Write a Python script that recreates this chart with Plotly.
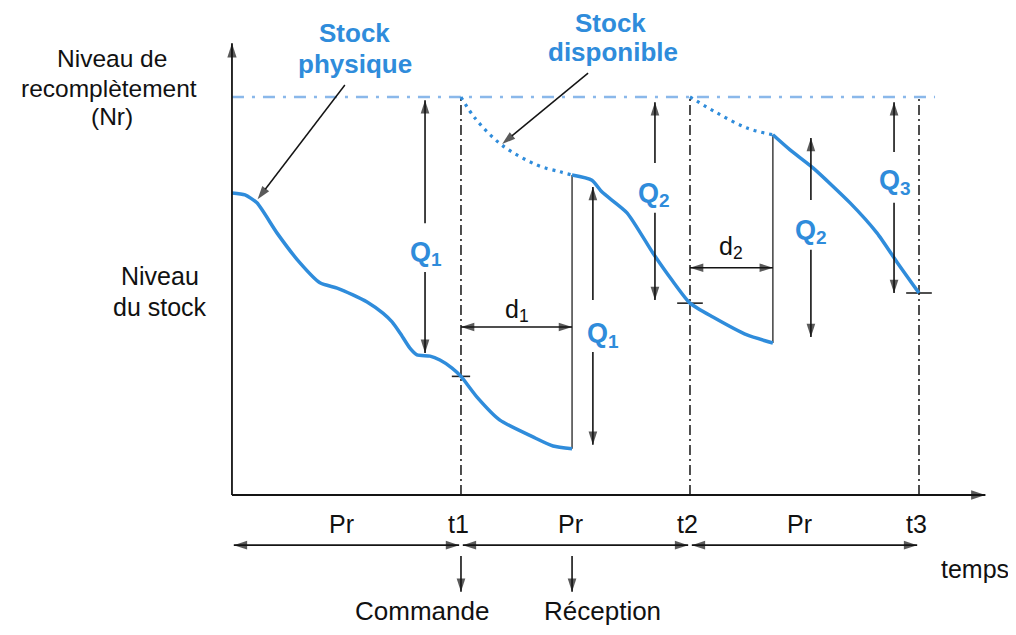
import plotly.graph_objects as go

# ---------------- data (time in Pr periods, stock level in % of Nr) ----------------
NR = 100
order_times = [1.0, 2.0, 3.0]          # t1, t2, t3
order_labels = ["t1", "t2", "t3"]
reception_times = [1.485, 2.362]

# physical stock, cycle 1 (from origin to first reception)
t_A = [0.0, 0.057, 0.109, 0.197, 0.297, 0.384, 0.459, 0.528, 0.590, 0.659, 0.699,
       0.734, 0.777, 0.808, 0.865, 0.908, 0.961, 1.0, 1.070, 1.170, 1.314, 1.402, 1.485]
stock_A = [75.9, 75.4, 73.4, 65.8, 58.3, 53.3, 52.0, 50.3, 48.5, 45.7, 43.5,
           40.7, 36.9, 35.2, 34.9, 33.9, 31.9, 29.8, 24.6, 18.8, 14.6, 12.3, 11.6]
# physical stock, cycle 2
t_B = [1.485, 1.572, 1.616, 1.725, 1.838, 1.921, 2.0, 2.100, 2.249, 2.362]
stock_B = [80.4, 79.1, 76.1, 70.9, 60.8, 54.0, 48.2, 44.7, 40.2, 38.2]
# physical stock, cycle 3
t_C = [2.362, 2.437, 2.537, 2.699, 2.817, 2.904, 3.0]
stock_C = [90.5, 86.7, 82.2, 73.4, 65.8, 58.5, 50.75]
# available stock (dotted)
t_D1 = [1.0, 1.061, 1.179, 1.332, 1.432, 1.485]
dispo_D1 = [100, 94.7, 87.9, 82.9, 81.2, 80.4]
t_D2 = [2.0, 2.118, 2.249, 2.362]
dispo_D2 = [100, 96.0, 92.2, 90.5]

# stock level at each order time (tick marks)
order_levels = [29.8, 48.2, 50.75]
# stock levels just before / after each reception
reception_low = [11.6, 38.2]
reception_high = [80.4, 90.5]

# Q arrows: (t, top, gap_top, label_t, label_v, gap_bottom, bottom, index)
q_arrows = [
    (0.843, 99.2, 68.3, 0.843, 61.1, 56.0, 35.7, "1"),
    (1.576, 77.4, 49.0, 1.616, 40.7, 35.9, 12.6, "1"),
    (1.847, 98.7, 83.4, 1.840, 75.9, 70.9, 49.0, "2"),
    (2.528, 89.7, 74.1, 2.528, 66.6, 61.6, 39.7, "2"),
    (2.891, 98.7, 86.2, 2.891, 79.1, 73.4, 50.75, "3"),
]
# delay arrows (level, index, label level)
d_arrows = [(42.2, "1", 46.8), (57.1, "2", 62.5)]

BLUE = "#2f8cdb"
NR_BLUE = "#8ab8ea"
INK = "#141414"
FONT = "Liberation Sans, Arial, sans-serif"

fig = go.Figure()

# replenishment level line
fig.add_trace(go.Scatter(x=[0, 3.07], y=[NR, NR], mode="lines",
                         line=dict(color=NR_BLUE, width=2.6, dash="12px,8px,3px,8px")))

# order time verticals (dash-dot)
for t in order_times:
    fig.add_trace(go.Scatter(x=[t, t], y=[0, NR], mode="lines",
                             line=dict(color="#222", width=1.6, dash="10px,4px,2px,4px")))

# reception verticals
for t, lo, hi in zip(reception_times, reception_low, reception_high):
    fig.add_trace(go.Scatter(x=[t, t], y=[lo, hi], mode="lines",
                             line=dict(color="#222", width=1.3)))

# tick marks at order points
for t, lv, hw in zip(order_times, order_levels, [0.04, 0.056, 0.056]):
    fig.add_trace(go.Scatter(x=[t - hw, t + hw], y=[lv, lv], mode="lines",
                             line=dict(color="#222", width=1.6)))

# physical stock curves
for tx, sy in [(t_A, stock_A), (t_B, stock_B), (t_C, stock_C)]:
    fig.add_trace(go.Scatter(x=tx, y=sy, mode="lines",
                             line=dict(color=BLUE, width=3.5, shape="spline", smoothing=0.6)))

# available stock curves (dotted)
for tx, sy in [(t_D1, dispo_D1), (t_D2, dispo_D2)]:
    fig.add_trace(go.Scatter(x=tx, y=sy, mode="lines",
                             line=dict(color=BLUE, width=3.2, dash="3px,5px", shape="spline")))


def heading(x0, y0, x1, y1):
    """marker angle (deg, clockwise from up) for an axis-aligned segment pointing to (x1, y1)"""
    if x0 == x1:
        return 0 if y1 > y0 else 180
    return 90 if x1 > x0 else 270


def arrow(x0, y0, x1, y1, double=False, width=1.6, size=14):
    if x0 == x1 or y0 == y1:
        ang_end = heading(x0, y0, x1, y1)
        ang_start = heading(x1, y1, x0, y0)
        marker = dict(symbol="arrow", size=[size if double else 0, size],
                      angle=[ang_start, ang_end], angleref="up", color=INK,
                      line=dict(width=0))
    else:
        marker = dict(symbol="arrow", size=[0, size], angleref="previous", color=INK,
                      line=dict(width=0))
    fig.add_trace(go.Scatter(x=[x0, x1], y=[y0, y1], mode="lines+markers",
                             line=dict(color=INK, width=width), marker=marker,
                             hoverinfo="skip"))


ann = []


def label(x, y, text, size=24, color="#111", bold=False, xshift=0, yshift=0):
    ann.append(dict(x=x, y=y, xref="x", yref="y", text=f"<b>{text}</b>" if bold else text,
                    showarrow=False, xshift=xshift, yshift=yshift,
                    font=dict(family=FONT, size=size, color=color)))


# axes
arrow(0, 0, 0, 113.5, width=1.8, size=15)
arrow(0, 0, 3.29, 0, width=1.8, size=15)

# Q arrows (letter + subscript index as separate texts)
for t, top, gt, lt, lv, gb, bot, idx in q_arrows:
    arrow(t, gt, t, top)
    arrow(t, gb, t, bot)
    label(lt, lv, "Q", size=27, color=BLUE, bold=True, xshift=-5)
    label(lt, lv, idx, size=19, color=BLUE, bold=True, xshift=11, yshift=-8)

# delay arrows
for (lvl, idx, lab_v), t0, t1 in zip(d_arrows, order_times[:2], reception_times):
    arrow(t0, lvl, t1, lvl, double=True)
    label((t0 + t1) / 2, lab_v, "d", size=25, xshift=-5)
    label((t0 + t1) / 2, lab_v, idx, size=17.5, xshift=7, yshift=-7)

# time line below the axis
for i, t in enumerate(order_times):
    t0 = 0 if i == 0 else order_times[i - 1]
    arrow(t0 + 0.008, -12.6, t - 0.008, -12.6, double=True)
    label((t0 + t) / 2 - 0.02, -7.2, "Pr", size=25)
    label(t - 0.01, -7.2, order_labels[i], size=25)
label(3.245, -18.6, "temps", size=25)

# order / reception markers
arrow(order_times[0], -15.3, order_times[0], -24.3)
arrow(reception_times[0], -15.3, reception_times[0], -24.3)
label(0.83, -29.2, "Commande", size=26)
label(1.62, -29.2, "Réception", size=26)

# left labels
label(-0.525, 109.6, "Niveau de", size=24.5)
label(-0.535, 102.2, "recomplètement", size=24.5)
label(-0.522, 95.0, "(Nr)", size=24.5)
label(-0.315, 54.9, "Niveau", size=25)
label(-0.315, 47.3, "du stock", size=25)

# blue callouts
label(0.537, 116.0, "Stock", size=26, color=BLUE, bold=True)
label(0.537, 108.4, "physique", size=26, color=BLUE, bold=True)
arrow(0.493, 103.0, 0.112, 74.3, width=1.5)
label(1.655, 118.6, "Stock", size=26, color=BLUE, bold=True)
label(1.664, 111.2, "disponible", size=26, color=BLUE, bold=True)
arrow(1.555, 106.0, 1.18, 88.2, width=1.5)

# page body adds an 8px offset; ranges compensate so marks land where the reference has them
fig.update_layout(
    width=1016, height=635,
    margin=dict(l=0, r=0, t=0, b=0),
    paper_bgcolor="white", plot_bgcolor="white",
    showlegend=False,
    annotations=ann,
    xaxis=dict(range=[-0.978, 3.4585], visible=False, fixedrange=True),
    yaxis=dict(range=[-37.19, 122.36], visible=False, fixedrange=True),
)

fig.write_html("out.html")
